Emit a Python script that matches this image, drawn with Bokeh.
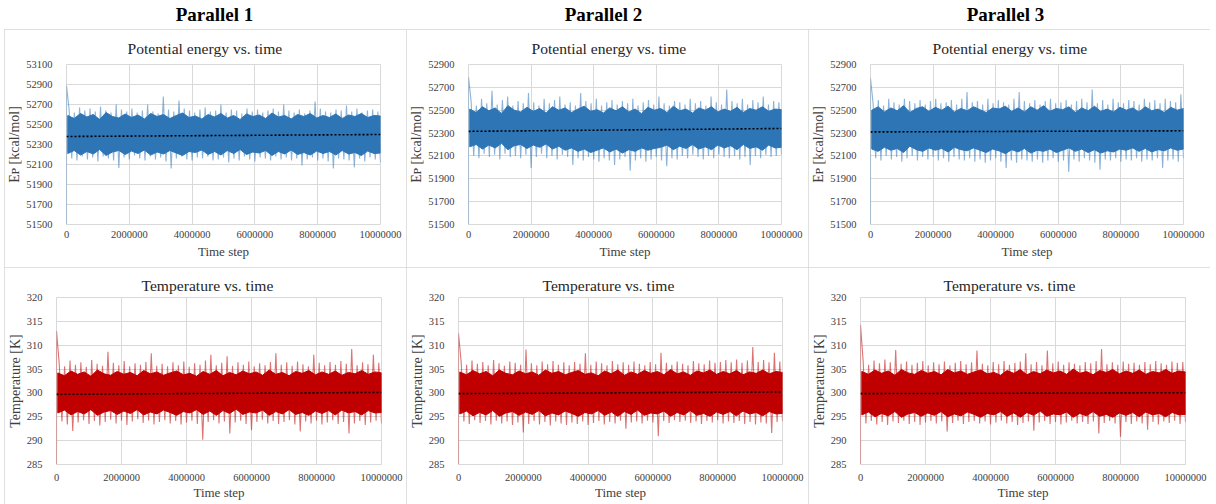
import numpy as np
from bokeh.plotting import figure
from bokeh.layouts import column, row
from bokeh.models import FixedTicker, BasicTickFormatter, Range1d, Spacer
from bokeh.core.properties import value
from bokeh.embed import file_html
from bokeh.resources import INLINE

# ---------------- data ----------------
headers = ["Parallel 1", "Parallel 2", "Parallel 3"]
x_ticks = [0, 2000000, 4000000, 6000000, 8000000, 10000000]
e_ticks_1 = [51500, 51700, 51900, 52100, 52300, 52500, 52700, 52900, 53100]
e_ticks_23 = [51500, 51700, 51900, 52100, 52300, 52500, 52700, 52900]
t_ticks = [285, 290, 295, 300, 305, 310, 315, 320]

# potential energy, parallel 1 (spike envelope, dense band edges, start transient, trend)
p1e_hi = [52650, 52620, 52670, 52640, 52660, 52630, 52680, 52640, 52620, 52700,
          52650, 52630, 52660, 52620, 52640, 52700, 52630, 52610, 52780, 52650,
          52630, 52740, 52660, 52640, 52620, 52650, 52670, 52630, 52640, 52700,
          52620, 52650, 52640, 52610, 52660, 52630, 52650, 52620, 52640, 52660,
          52630, 52700, 52640, 52620, 52650, 52610, 52640, 52730, 52660, 52630,
          52620, 52650, 52640, 52690, 52630, 52660, 52620, 52640, 52650, 52630]
p1e_lo = [52160, 52140, 52180, 52150, 52170, 52130, 52180, 52160, 52140, 52065,
          52170, 52150, 52190, 52160, 52140, 52180, 52150, 52170, 52130, 52060,
          52160, 52180, 52150, 52140, 52170, 52160, 52180, 52140, 52150, 52170,
          52120, 52160, 52140, 52180, 52150, 52130, 52170, 52160, 52140, 52180,
          52150, 52170, 52140, 52160, 52090, 52150, 52170, 52140, 52160, 52130,
          52060, 52160, 52150, 52140, 52070, 52160, 52130, 52170, 52150, 52120]
p1e_core_hi = [52590, 52560, 52610, 52575, 52600, 52550, 52620, 52580, 52565, 52605,
               52570, 52595, 52555, 52610, 52580, 52600, 52560, 52590, 52615, 52570,
               52585, 52555, 52600, 52575, 52610, 52565, 52590, 52550, 52605, 52580,
               52595, 52560, 52615, 52575, 52590, 52555, 52600, 52580, 52610, 52565,
               52590, 52570, 52605, 52560, 52595, 52580, 52610, 52570, 52590, 52585]
p1e_core_lo = [52210, 52240, 52195, 52230, 52205, 52250, 52190, 52225, 52240, 52200,
               52235, 52210, 52245, 52195, 52225, 52205, 52240, 52215, 52190, 52230,
               52220, 52245, 52200, 52230, 52195, 52240, 52210, 52250, 52200, 52225,
               52215, 52240, 52190, 52230, 52205, 52245, 52200, 52220, 52195, 52235,
               52210, 52230, 52195, 52240, 52205, 52220, 52190, 52235, 52210, 52215]
p1e_start = [51500, 52890]
p1e_trend = [52380, 52400]

# potential energy, parallel 2
p2e_hi = [52580, 52540, 52600, 52560, 52670, 52550, 52590, 52620, 52540, 52580,
          52560, 52650, 52570, 52540, 52600, 52560, 52590, 52620, 52550, 52570,
          52540, 52650, 52580, 52560, 52600, 52540, 52570, 52590, 52550, 52580,
          52560, 52600, 52540, 52570, 52590, 52550, 52620, 52560, 52540, 52580,
          52570, 52550, 52600, 52560, 52580, 52540, 52620, 52570, 52550, 52680,
          52580, 52560, 52600, 52550, 52590, 52570, 52620, 52550, 52580, 52570]
p2e_lo = [52100, 52080, 52120, 52090, 52110, 52070, 52120, 52090, 52100, 52080,
          52110, 51995, 52090, 52120, 52080, 52100, 52070, 52110, 52090, 52020,
          52080, 52060, 52090, 52070, 52050, 52080, 52060, 52020, 52070, 52090,
          51970, 52060, 52080, 52050, 52070, 52090, 52060, 52010, 52080, 52070,
          52100, 52080, 52110, 52090, 52070, 52100, 52080, 52110, 52090, 52080,
          52100, 52070, 52090, 52020, 52100, 52080, 52110, 52090, 52100, 52110]
p2e_core_hi = [52510, 52480, 52530, 52495, 52520, 52470, 52540, 52500, 52485, 52525,
               52490, 52515, 52475, 52530, 52500, 52520, 52480, 52510, 52535, 52490,
               52505, 52475, 52520, 52495, 52530, 52485, 52510, 52470, 52525, 52500,
               52515, 52480, 52535, 52495, 52510, 52475, 52520, 52500, 52530, 52485,
               52510, 52490, 52525, 52480, 52515, 52500, 52530, 52490, 52510, 52505]
p2e_core_lo = [52180, 52200, 52160, 52195, 52170, 52210, 52155, 52190, 52200, 52165,
               52195, 52175, 52205, 52160, 52185, 52150, 52170, 52140, 52160, 52130,
               52150, 52170, 52135, 52160, 52125, 52155, 52140, 52170, 52150, 52165,
               52175, 52195, 52155, 52185, 52165, 52200, 52160, 52180, 52155, 52195,
               52170, 52190, 52155, 52200, 52165, 52180, 52150, 52195, 52170, 52175]
p2e_start = [51500, 52790]
p2e_trend = [52315, 52340]

# potential energy, parallel 3
p3e_hi = [52560, 52590, 52540, 52600, 52570, 52550, 52600, 52580, 52560, 52590,
          52550, 52580, 52600, 52560, 52570, 52590, 52550, 52600, 52660, 52570,
          52580, 52550, 52600, 52560, 52590, 52570, 52550, 52600, 52660, 52580,
          52560, 52590, 52550, 52580, 52600, 52560, 52570, 52590, 52550, 52580,
          52600, 52570, 52680, 52560, 52590, 52550, 52600, 52570, 52560, 52590,
          52580, 52550, 52600, 52570, 52590, 52560, 52600, 52580, 52570, 52640]
p3e_lo = [52080, 52060, 52100, 52070, 52090, 52050, 52080, 52100, 52060, 52090,
          52070, 52090, 52060, 52080, 52050, 52090, 52070, 52060, 52080, 52050,
          52070, 52040, 52060, 52080, 52050, 51995, 52060, 52040, 52070, 52060,
          52050, 52070, 52040, 52060, 52080, 52050, 52060, 51960, 52070, 52050,
          52080, 52060, 52040, 51980, 52070, 52060, 52080, 52050, 52070, 52060,
          52080, 52050, 52070, 52060, 52080, 51995, 52060, 52070, 52050, 52080]
p3e_core_hi = [52500, 52530, 52485, 52520, 52495, 52540, 52480, 52515, 52530, 52490,
               52525, 52500, 52535, 52485, 52515, 52495, 52530, 52505, 52480, 52520,
               52510, 52535, 52490, 52520, 52485, 52530, 52500, 52540, 52490, 52515,
               52505, 52530, 52480, 52520, 52495, 52535, 52490, 52510, 52485, 52525,
               52500, 52520, 52485, 52530, 52495, 52510, 52480, 52525, 52500, 52515]
p3e_core_lo = [52160, 52140, 52175, 52150, 52165, 52130, 52185, 52155, 52140, 52170,
               52150, 52165, 52135, 52175, 52155, 52145, 52170, 52150, 52130, 52160,
               52145, 52120, 52155, 52135, 52165, 52125, 52150, 52140, 52160, 52130,
               52150, 52170, 52140, 52160, 52130, 52155, 52125, 52145, 52135, 52160,
               52150, 52170, 52140, 52165, 52135, 52155, 52145, 52170, 52150, 52160]
p3e_start = [51500, 52780]
p3e_trend = [52310, 52320]

# temperature, parallel 1
p1t_hi = [306.2, 305.6, 306.8, 305.9, 306.4, 305.5, 306.9, 306.1, 305.7, 308.6,
          306.3, 305.8, 306.7, 305.6, 306.2, 305.9, 306.5, 308.3, 305.7, 306.1,
          305.6, 306.4, 305.8, 306.6, 305.5, 306.2, 305.9, 306.8, 308.0, 305.8,
          306.3, 307.7, 305.7, 306.4, 305.9, 306.6, 305.6, 306.2, 305.8, 306.5,
          308.3, 305.9, 306.4, 305.7, 306.6, 306.0, 305.6, 308.0, 306.3, 305.8,
          306.5, 305.9, 306.7, 306.1, 309.2, 305.8, 306.4, 306.0, 308.0, 306.3]
p1t_lo = [294.0, 293.4, 292.0, 293.8, 294.3, 293.5, 294.1, 293.2, 293.9, 294.4,
          293.6, 294.2, 293.3, 294.0, 294.5, 293.7, 294.2, 293.4, 293.9, 294.3,
          293.6, 294.1, 293.4, 293.8, 294.2, 293.5, 290.2, 293.9, 294.3, 293.6,
          294.0, 291.5, 293.8, 294.2, 293.5, 292.2, 293.9, 294.4, 293.6, 294.1,
          293.5, 293.9, 294.3, 293.4, 291.9, 294.0, 293.6, 294.2, 293.4, 293.8,
          294.3, 293.5, 293.9, 291.5, 293.6, 294.1, 293.3, 293.8, 294.2, 293.6]
p1t_core_hi = [304.2, 303.6, 304.6, 303.9, 304.4, 303.5, 304.8, 304.0, 303.7, 304.5,
               303.9, 304.3, 303.6, 304.7, 304.0, 304.4, 303.7, 304.2, 304.6, 303.8,
               304.1, 303.5, 304.5, 303.9, 304.7, 303.6, 304.3, 303.8, 304.6, 304.0,
               304.4, 303.7, 304.8, 303.9, 304.3, 303.6, 304.5, 304.1, 304.7, 303.8,
               304.4, 303.9, 304.6, 303.7, 304.3, 304.0, 304.7, 303.9, 304.4, 304.2]
p1t_core_lo = [295.8, 296.4, 295.4, 296.1, 295.6, 296.5, 295.3, 296.0, 296.3, 295.5,
               296.2, 295.7, 296.5, 295.4, 296.0, 295.6, 296.4, 295.9, 295.3, 296.1,
               295.8, 296.5, 295.5, 296.2, 295.3, 296.3, 295.7, 296.6, 295.5, 296.0,
               295.8, 296.4, 295.3, 296.1, 295.6, 296.5, 295.5, 295.9, 295.3, 296.2,
               295.7, 296.3, 295.4, 296.4, 295.8, 296.1, 295.4, 296.3, 295.8, 295.9]
p1t_start = [285.0, 313.0]
p1t_trend = [299.7, 300.1]

# temperature, parallel 2
p2t_hi = [306.4, 305.9, 306.8, 306.1, 306.5, 305.8, 306.9, 306.2, 305.7, 306.6,
          306.3, 305.9, 309.1, 306.2, 305.8, 306.6, 306.0, 306.7, 305.9, 306.4,
          305.8, 306.5, 306.1, 308.3, 305.9, 306.6, 306.2, 305.8, 306.7, 306.0,
          306.4, 305.9, 306.6, 306.1, 305.8, 306.5, 306.0, 308.4, 306.3, 305.9,
          306.6, 306.1, 305.8, 306.7, 306.2, 306.0, 306.8, 306.3, 306.5, 306.9,
          306.4, 307.0, 306.3, 306.8, 309.6, 306.5, 306.9, 306.4, 308.4, 306.6]
p2t_lo = [294.0, 293.5, 294.3, 293.7, 294.1, 293.4, 294.2, 293.6, 294.0, 293.3,
          293.8, 291.7, 293.5, 294.1, 293.4, 293.9, 293.2, 294.0, 293.6, 293.3,
          293.8, 293.5, 294.0, 293.3, 293.7, 294.1, 293.4, 293.9, 293.6, 294.2,
          292.5, 293.8, 294.0, 293.6, 294.2, 293.8, 290.9, 294.1, 293.7, 294.3,
          293.9, 294.2, 293.7, 294.0, 293.5, 294.1, 293.8, 294.3, 293.6, 294.0,
          293.7, 294.1, 293.5, 293.9, 293.4, 293.8, 293.6, 291.6, 293.9, 294.1]
p2t_core_hi = [304.4, 303.8, 304.7, 304.0, 304.5, 303.6, 304.8, 304.1, 303.8, 304.6,
               304.0, 304.4, 303.7, 304.8, 304.1, 304.5, 303.8, 304.3, 304.7, 303.9,
               304.2, 303.6, 304.6, 304.0, 304.8, 303.7, 304.4, 303.9, 304.7, 304.1,
               304.5, 303.8, 304.9, 304.0, 304.4, 303.7, 304.6, 304.2, 304.8, 303.9,
               304.5, 304.0, 304.7, 303.8, 304.4, 304.1, 304.8, 304.0, 304.5, 304.3]
p2t_core_lo = [295.6, 296.2, 295.2, 295.9, 295.4, 296.3, 295.1, 295.8, 296.1, 295.3,
               296.0, 295.5, 296.3, 295.2, 295.8, 295.4, 296.2, 295.7, 295.1, 295.9,
               295.6, 296.3, 295.3, 296.0, 295.1, 296.1, 295.5, 296.4, 295.3, 295.8,
               295.6, 296.2, 295.1, 295.9, 295.4, 296.3, 295.3, 295.7, 295.1, 296.0,
               295.5, 296.1, 295.2, 296.2, 295.6, 295.9, 295.2, 296.1, 295.6, 295.7]
p2t_start = [285.0, 312.5]
p2t_trend = [299.85, 300.2]

# temperature, parallel 3
p3t_hi = [306.5, 305.9, 306.8, 306.2, 307.0, 306.4, 309.0, 306.1, 306.6, 305.9,
          306.3, 306.7, 305.8, 306.4, 306.0, 306.6, 305.8, 306.3, 306.7, 306.0,
          306.4, 308.9, 306.1, 305.8, 306.5, 306.0, 306.7, 305.9, 306.3, 306.6,
          308.3, 306.0, 306.5, 305.8, 308.9, 306.2, 306.6, 305.9, 306.4, 306.1,
          305.8, 306.5, 306.2, 306.7, 309.2, 306.0, 306.4, 305.9, 306.6, 306.1,
          306.3, 305.9, 306.5, 306.0, 306.7, 306.2, 305.9, 306.6, 306.3, 306.5]
p3t_lo = [293.6, 294.1, 293.4, 293.9, 293.3, 294.0, 293.7, 294.2, 293.5, 293.9,
          293.3, 293.8, 294.1, 293.6, 294.0, 291.9, 293.7, 294.2, 293.5, 293.9,
          294.1, 293.6, 294.0, 293.4, 293.8, 294.2, 293.6, 293.9, 293.3, 293.7,
          294.0, 292.1, 293.8, 294.1, 293.5, 293.9, 293.4, 293.8, 294.2, 293.6,
          293.9, 293.5, 294.0, 291.5, 293.7, 294.1, 293.6, 290.8, 293.9, 293.5,
          294.0, 293.6, 292.3, 293.9, 293.4, 294.0, 293.7, 294.2, 293.5, 293.9]
p3t_core_hi = [304.5, 303.9, 304.8, 304.1, 304.6, 303.7, 304.9, 304.2, 303.9, 304.7,
               304.1, 304.5, 303.8, 304.9, 304.2, 304.6, 303.9, 304.4, 304.8, 304.0,
               304.3, 303.7, 304.7, 304.1, 304.9, 303.8, 304.5, 304.0, 304.8, 304.2,
               304.6, 303.9, 305.0, 304.1, 304.5, 303.8, 304.7, 304.3, 304.9, 304.0,
               304.6, 304.1, 304.8, 303.9, 304.5, 304.2, 304.9, 304.1, 304.6, 304.4]
p3t_core_lo = [295.4, 296.0, 295.0, 295.7, 295.2, 296.1, 294.9, 295.6, 295.9, 295.1,
               295.8, 295.3, 296.1, 295.0, 295.6, 295.2, 296.0, 295.5, 294.9, 295.7,
               295.4, 296.1, 295.1, 295.8, 294.9, 295.9, 295.3, 296.2, 295.1, 295.6,
               295.4, 296.0, 294.9, 295.7, 295.2, 296.1, 295.1, 295.5, 294.9, 295.8,
               295.3, 295.9, 295.0, 296.0, 295.4, 295.7, 295.0, 295.9, 295.4, 295.5]
p3t_start = [285.0, 314.3]
p3t_trend = [299.85, 300.05]

# ---------------- styling ----------------
FONT = "Liberation Serif"
TXT = "#404040"
GRID = "#d9d9d9"
BLUE = "#2e75b6"
RED = "#c00000"
X_MAX = 10000000


def zigzag(hi, lo):
    n = len(hi) + len(lo)
    ys = np.empty(n)
    ys[0::2] = hi
    ys[1::2] = lo
    xs = np.linspace(X_MAX / n, X_MAX, n)
    return xs, ys


def panel(title, ylabel, yticks, hi, lo, core_hi, core_lo, start, trend, color,
          w, h, bl, br, bt, bb, title_offset, title_standoff, xt_standoff, xl_standoff):
    p = figure(width=w, height=h, output_backend="svg", toolbar_location=None,
               x_range=Range1d(0, X_MAX), y_range=Range1d(yticks[0], yticks[-1]),
               min_border_left=bl, min_border_right=br, min_border_top=bt,
               min_border_bottom=bb)
    p.styles = {"outline": "1px solid #d6d6d6", "outline-offset": "-1px"}
    p.background_fill_color = "white"
    p.border_fill_color = "white"
    p.outline_line_color = GRID

    # light spikes (envelope)
    xo, yo = zigzag(hi, lo)
    xs = np.concatenate([[0, 0], xo])
    ys = np.concatenate([start, yo])
    p.line(xs, ys, line_color=color, line_alpha=0.55, line_width=1.1)

    # dense body of the signal: jagged upper and lower edges
    xt = np.linspace(X_MAX * 0.004, X_MAX, len(core_hi))
    xb = np.linspace(X_MAX * 0.004, X_MAX, len(core_lo))
    px = np.concatenate([xt, xb[::-1]])
    py = np.concatenate([np.asarray(core_hi, float), np.asarray(core_lo, float)[::-1]])
    p.patch(px, py, fill_color=color, fill_alpha=1.0, line_color=color, line_width=1)

    p.line([0, X_MAX], trend, line_color="black", line_dash="2 2", line_width=1.6)

    p.title.text = title
    p.title.align = "left"
    p.title.offset = title_offset
    p.title.text_font = FONT
    p.title.text_font_style = "normal"
    p.title.text_font_size = "15.6px"
    p.title.text_color = "#262626"
    p.title.standoff = title_standoff

    p.xaxis.ticker = FixedTicker(ticks=x_ticks)
    p.yaxis.ticker = FixedTicker(ticks=yticks)
    p.xaxis.formatter = BasicTickFormatter(use_scientific=False)
    p.xgrid.ticker = FixedTicker(ticks=x_ticks)
    p.ygrid.ticker = FixedTicker(ticks=yticks)
    p.grid.grid_line_color = GRID
    p.grid.grid_line_width = 1

    for ax in (p.xaxis[0], p.yaxis[0]):
        ax.axis_line_color = None
        ax.major_tick_line_color = None
        ax.minor_tick_line_color = None
        ax.major_label_text_font = FONT
        ax.major_label_text_font_size = "10.5px"
        ax.major_label_text_color = TXT
        ax.axis_label_text_font = FONT
        ax.axis_label_text_font_style = "normal"
        ax.axis_label_text_color = TXT
    p.xaxis.axis_label = "Time step"
    p.yaxis.axis_label = ylabel
    p.xaxis.axis_label_text_font_size = "13px"
    p.yaxis.axis_label_text_font_size = "14px"
    p.xaxis.major_label_standoff = xt_standoff
    p.xaxis.axis_label_standoff = xl_standoff
    p.yaxis.major_label_standoff = 8
    p.yaxis.axis_label_standoff = 1
    return p


EP = "E\u1d18 [kcal/mol]"
TK = "Temperature [K]"
PE = "Potential energy vs. time"
TT = "Temperature vs. time"

f1 = panel(PE, EP, e_ticks_1, p1e_hi, p1e_lo, p1e_core_hi, p1e_core_lo, p1e_start, p1e_trend, BLUE,
           402, 238, 56, 26, 34, 43, 61, 16, 0, 3)
f2 = panel(PE, EP, e_ticks_23, p2e_hi, p2e_lo, p2e_core_hi, p2e_core_lo, p2e_start, p2e_trend, BLUE,
           402, 238, 56, 27, 34, 43, 63, 16, 0, 3)
f3 = panel(PE, EP, e_ticks_23, p3e_hi, p3e_lo, p3e_core_hi, p3e_core_lo, p3e_start, p3e_trend, BLUE,
           402, 238, 55, 27, 34, 43, 62, 16, 0, 3)
f4 = panel(TT, TK, t_ticks, p1t_hi, p1t_lo, p1t_core_hi, p1t_core_lo, p1t_start, p1t_trend, RED,
           402, 237, 44, 25, 30, 39, 85, 8, 3, 1)
f5 = panel(TT, TK, t_ticks, p2t_hi, p2t_lo, p2t_core_hi, p2t_core_lo, p2t_start, p2t_trend, RED,
           402, 237, 44, 26, 29, 40, 84, 8, 3, 1)
f6 = panel(TT, TK, t_ticks, p3t_hi, p3t_lo, p3t_core_hi, p3t_core_lo, p3t_start, p3t_trend, RED,
           402, 237, 44, 25, 29, 40, 83, 8, 3, 1)

# header strip
header_x = [214, 603, 1005]
hdr = figure(width=1216, height=29, output_backend="svg", toolbar_location=None,
             x_range=Range1d(0, 1216), y_range=Range1d(0, 29), min_border=0)
hdr.axis.visible = False
hdr.grid.visible = False
hdr.outline_line_color = None
hdr.text(x=header_x, y=[15.5, 15.5, 15.5], text=headers, text_align="center",
         text_baseline="middle", text_font=value(FONT), text_font_style="bold",
         text_font_size="19px", text_color="black")

layout = column(hdr,
                row(Spacer(width=4, height=238), f1, f2, f3, spacing=0),
                row(Spacer(width=4, height=237), f4, f5, f6, spacing=0),
                spacing=0)

open("out.html", "w").write(file_html(layout, INLINE))
